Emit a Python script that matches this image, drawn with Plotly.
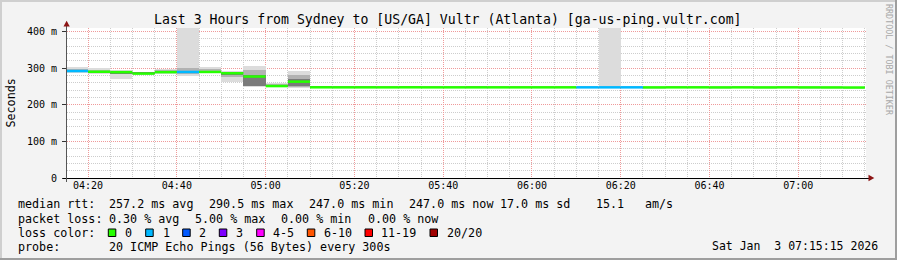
import plotly.graph_objects as go
import pandas as pd

# ---------------- data ----------------
DAY = "2026-01-03"
bin_start = ["04:15", "04:20", "04:25", "04:30", "04:35", "04:40", "04:45", "04:50", "04:55",
             "05:00", "05:05", "05:10", "05:15", "05:20", "05:25", "05:30", "05:35", "05:40",
             "05:45", "05:50", "05:55", "06:00", "06:05", "06:10", "06:15", "06:20", "06:25",
             "06:30", "06:35", "06:40", "06:45", "06:50", "06:55", "07:00", "07:05", "07:10"]

median_ms = [292.0, 290.0, 289.0, 285.0, 289.0, 289.5, 289.5, 286.0, 277.0, 251.0, 263.0,
             247.6, 247.5, 247.5, 247.5, 247.6, 247.5, 247.5, 247.5, 247.5, 247.5, 247.5,
             247.5, 247.5, 247.5, 247.5, 247.4, 247.5, 247.5, 247.4, 247.5, 247.4, 247.5,
             247.4, 247.3, 247.0]

loss_count = [1, 0, 0, 0, 0, 1, 0, 0, 0, 0, 0,
              0, 0, 0, 0, 0, 0, 0, 0, 0, 0,
              0, 0, 1, 1, 1,
              0, 0, 0, 0, 0, 0, 0, 0, 0, 0]

# smoke bands (ms): outer = min..max, mid and inner = tighter ping groups
outer_hi = [303, 299, 294, 290, 297, 600, 302, 291, 306, 260, 293,
            249.5, 249.5, 249.5, 249, 249.5, 249, 249, 249.5, 249, 249, 249,
            249, 249, 600, 249, 248.5, 249, 249, 248.5, 249, 248.5, 249,
            248.5, 248.5, 248.5]
outer_lo = [288, 285, 270, 280, 283, 279, 287, 263, 248, 249, 247,
            247, 246.5, 246.5, 246, 246.5, 246, 246, 246.5, 246, 246, 246,
            246, 246, 246, 246, 245.5, 246, 246, 245.5, 246, 245.5, 246,
            245.5, 245.5, 245.5]
mid_hi = [298, 295, 291, 290, 294, 300, 298, 289, 296, 256, 280,
          249, 248.5, 248.5, 248, 248.5, 248, 248, 248.5, 248, 248, 248,
          248, 248, 248, 248, 247.5, 248, 248, 247.5, 248, 247.5, 248,
          247.5, 247.5, 247.5]
mid_lo = [289, 287, 284, 283, 286, 284, 288, 276, 250, 250, 249,
          248, 247.5, 247.5, 247, 247.5, 247, 247, 247.5, 247, 247, 247,
          247, 247, 247, 247, 246.5, 247, 247, 246.5, 247, 246.5, 247,
          246.5, 246.5, 246.5]
inner_hi = [295, 292, 290, 289, 291, 293, 292, 288, 282, 253, 271,
            248.8, 248.3, 248.3, 247.8, 248.3, 247.8, 247.8, 248.3, 247.8, 247.8, 247.8,
            247.8, 247.8, 247.8, 247.8, 247.3, 247.8, 247.8, 247.3, 247.8, 247.3, 247.8,
            247.3, 247.3, 247.3]
inner_lo = [290, 288, 286, 284, 288, 287, 288, 283, 252, 250, 251,
            248.2, 247.7, 247.7, 247.2, 247.7, 247.2, 247.2, 247.7, 247.2, 247.2, 247.2,
            247.2, 247.2, 247.2, 247.2, 246.7, 247.2, 247.2, 246.7, 247.2, 246.7, 247.2,
            246.7, 246.7, 246.7]

loss_labels = ["0", "1", "2", "3", "4-5", "6-10", "11-19", "20/20"]
loss_colors = ["#26ff00", "#00b8ff", "#0059ff", "#7e00ff", "#ff00ff", "#ff5500", "#ff0000", "#a00000"]

y_tickvals = [0, 100, 200, 300, 400]
y_ticktext = ["0", "100 m", "200 m", "300 m", "400 m"]

title_text = "Last 3 Hours from Sydney to [US/GA] Vultr (Atlanta) [ga-us-ping.vultr.com]"
legend_line1 = [("median rtt:", 16), ("257.2 ms avg", 107.3), ("290.5 ms max", 207.3),
                ("247.0 ms min", 306.7), ("247.0 ms now", 406.7), ("17.0 ms sd", 498.3),
                ("15.1", 594.0), ("am/s", 642.7)]
legend_line2 = [("packet loss:", 16), ("0.30 % avg", 107.3), ("5.00 % max", 193.3),
                ("0.00 % min", 279.3), ("0.00 % now", 365.7)]
probe_text = "20 ICMP Echo Pings (56 Bytes) every 300s"
date_text = "Sat Jan  3 07:15:15 2026"

X_START = DAY + " 04:15:15"
X_END = DAY + " 07:15:15"

# ---------------- layout geometry ----------------
W, H = 897, 260
L, R, T, B = 67, 31, 28, 82
PW, PH = W - L - R, H - T - B
MONO = "DejaVu Sans Mono"


def px(x):
    return (x - L) / PW


def py(y):
    return (T + PH - y) / PH


def loss_bucket(n):
    if n <= 3:
        return n
    if n <= 5:
        return 4
    if n <= 10:
        return 5
    if n <= 19:
        return 6
    return 7


starts = pd.to_datetime([DAY + " " + s for s in bin_start])
step = pd.Timedelta(seconds=300)
centers = starts + step / 2
ends = starts + step

fig = go.Figure()

# smoke
for lo, hi, col in [(outer_lo, outer_hi, "#dcdcdc"), (mid_lo, mid_hi, "#b2b2b2"),
                    (inner_lo, inner_hi, "#7a7a7a")]:
    fig.add_trace(go.Bar(
        x=centers, y=[h - l for h, l in zip(hi, lo)], base=lo,
        width=300000, marker=dict(color=col, line=dict(width=0)),
        showlegend=False, hoverinfo="skip"))

# median line, coloured by loss
for b, col in enumerate(loss_colors):
    xs, ys = [], []
    for s, e, m, n in zip(starts, ends, median_ms, loss_count):
        if loss_bucket(n) == b:
            xs += [s, e, None]
            ys += [m, m, None]
    if xs:
        fig.add_trace(go.Scatter(x=xs, y=ys, mode="lines",
                                 line=dict(color=col, width=2.5),
                                 showlegend=False, hoverinfo="skip"))

# ---------------- axes ----------------
fig.update_xaxes(
    type="date", range=[X_START, X_END],
    tick0=DAY + " 04:20:00", dtick=20 * 60 * 1000, tickformat="%H:%M",
    showgrid=True, gridcolor="#ef9a9a", griddash="1px,1px", gridwidth=1,
    minor=dict(dtick=5 * 60 * 1000, showgrid=True, gridcolor="#cdcdcd",
               griddash="1px,1px", gridwidth=1),
    showline=False, zeroline=False, ticks="",
    tickfont=dict(family=MONO, size=10, color="#000"),
    fixedrange=True)
fig.update_yaxes(
    range=[0, 409.5], tickvals=y_tickvals, ticktext=y_ticktext,
    showgrid=True, gridcolor="#ef9a9a", griddash="1px,1px", gridwidth=1,
    minor=dict(dtick=20, showgrid=True, gridcolor="#cdcdcd",
               griddash="1px,1px", gridwidth=1),
    showline=False, zeroline=False, ticks="outside", ticklen=4, tickcolor="#333",
    tickfont=dict(family=MONO, size=10, color="#000"),
    ticklabelstandoff=3,
    fixedrange=True)

shapes = []
# frame
shapes.append(dict(type="rect", xref="paper", yref="paper", x0=px(0), x1=px(W), y0=py(0), y1=py(2),
                   fillcolor="#cfcfcf", line=dict(width=0), layer="above"))
shapes.append(dict(type="rect", xref="paper", yref="paper", x0=px(0), x1=px(2), y0=py(0), y1=py(H),
                   fillcolor="#cfcfcf", line=dict(width=0), layer="above"))
shapes.append(dict(type="rect", xref="paper", yref="paper", x0=px(W - 2), x1=px(W), y0=py(0), y1=py(H),
                   fillcolor="#9e9e9e", line=dict(width=0), layer="above"))
shapes.append(dict(type="rect", xref="paper", yref="paper", x0=px(0), x1=px(W), y0=py(H - 2), y1=py(H),
                   fillcolor="#9e9e9e", line=dict(width=0), layer="above"))
# axis lines
shapes.append(dict(type="line", xref="paper", yref="paper", x0=px(63), x1=px(869), y0=py(178.5), y1=py(178.5),
                   line=dict(color="#000", width=1), layer="above"))
shapes.append(dict(type="line", xref="paper", yref="paper", x0=px(66.5), x1=px(66.5), y0=py(182), y1=py(25),
                   line=dict(color="#555", width=1), layer="above"))


def tri(points):
    p = " L ".join(f"{px(a):.5f},{py(b):.5f}" for a, b in points)
    return "M " + p + " Z"


shapes.append(dict(type="path", xref="paper", yref="paper",
                   path=tri([(63.5, 26.5), (69.8, 26.5), (66.6, 20.8)]),
                   fillcolor="#8c1414", line=dict(width=0), layer="above"))
shapes.append(dict(type="path", xref="paper", yref="paper",
                   path=tri([(868.5, 174.8), (868.5, 181.2), (874.3, 178.0)]),
                   fillcolor="#8c1414", line=dict(width=0), layer="above"))

# legend swatches
sw_x = [108.3, 145.7, 182.7, 219.3, 256.7, 307.3, 365.0, 430.0]
lab_x = [123.3, 160.7, 197.3, 234.3, 271.0, 321.7, 379.3, 445.0]
for xx, col in zip(sw_x, loss_colors):
    shapes.append(dict(type="rect", xref="paper", yref="paper",
                       x0=px(xx), x1=px(xx + 7.5), y0=py(229), y1=py(236.5),
                       fillcolor=col, line=dict(color="#000", width=1), layer="above"))

annotations = []


def txt(text, x, y, size=11.7, xanchor="left", color="#000", angle=0, yanchor="middle"):
    annotations.append(dict(text=text, x=px(x), y=py(y), xref="paper", yref="paper",
                            showarrow=False, xanchor=xanchor, yanchor=yanchor, textangle=angle,
                            font=dict(family=MONO, size=size, color=color)))


txt(title_text, 448, 19.5, size=13.2, xanchor="center")
txt("Seconds", 10.5, 103, xanchor="center", angle=-90)
txt("RRDTOOL / TOBI OETIKER", 889, 60, size=8.4, xanchor="center", color="#a8a8a8", angle=90)
for t, x in legend_line1:
    txt(t, x, 204.3)
for t, x in legend_line2:
    txt(t, x, 218.5)
txt("loss color:", 16, 232.7)
for lab, x in zip(loss_labels, lab_x):
    txt(lab, x, 232.7)
txt("probe:", 16, 246.7)
txt(probe_text, 107.3, 246.7)
txt(date_text, 880, 246.3, size=11.5, xanchor="right")

fig.update_layout(
    width=W, height=H, autosize=False,
    margin=dict(l=L, r=R, t=T, b=B, pad=0),
    paper_bgcolor="#f3f3f3", plot_bgcolor="#ffffff",
    barmode="overlay", bargap=0,
    showlegend=False,
    shapes=shapes, annotations=annotations,
)

fig.write_html("out.html", config={"displayModeBar": False})
